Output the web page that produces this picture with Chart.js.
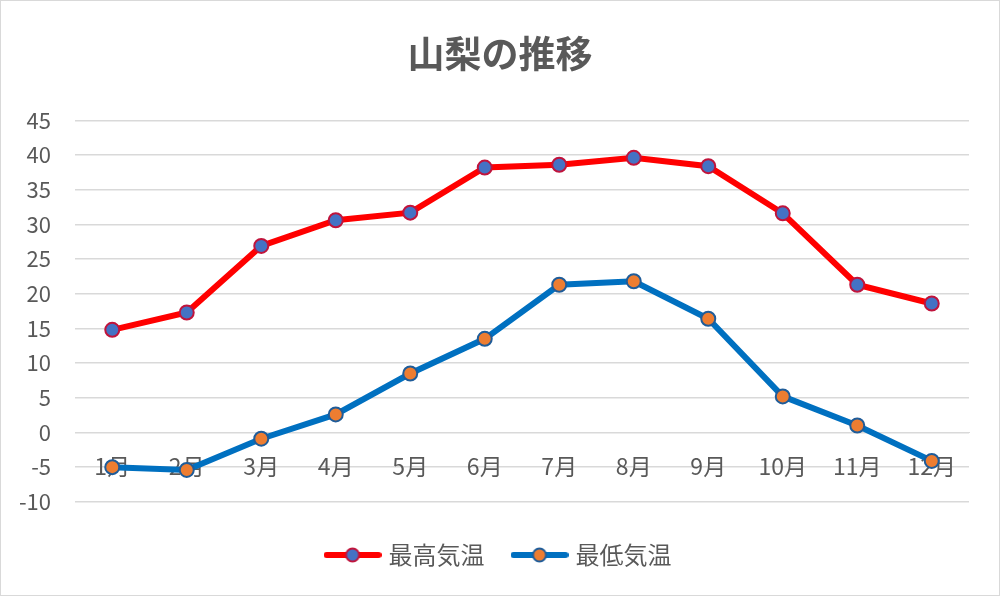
<!DOCTYPE html>
<html>
<head>
<meta charset="utf-8">
<script src="https://cdn.jsdelivr.net/npm/chart.js@4/dist/chart.umd.min.js"></script>
<style>
  html, body { margin: 0; padding: 0; background: #fff; }
  #wrap { width: 1000px; height: 596px; box-sizing: border-box; border: 1px solid #d9d9d9; }
</style>
</head>
<body>
<div id="wrap"><canvas id="chart" width="998" height="594"></canvas></div>
<script>
// chart data
const months = ["1月", "2月", "3月", "4月", "5月", "6月", "7月", "8月", "9月", "10月", "11月", "12月"]
const highTemps = [14.8, 17.3, 26.9, 30.6, 31.7, 38.2, 38.6, 39.6, 38.4, 31.6, 21.3, 18.6]
const lowTemps = [-5.0, -5.4, -0.9, 2.6, 8.5, 13.5, 21.3, 21.8, 16.4, 5.2, 1.0, -4.1]
const seriesNames = ["最高気温", "最低気温"]

const FONT = "'Noto Sans CJK JP', 'Noto Sans', sans-serif"
const TEXT = "#595959"

// legend marker: line with a dot, like Excel
function legendIcon(lineColor, fill, stroke) {
  const c = document.createElement("canvas")
  c.width = 58
  c.height = 18
  const g = c.getContext("2d")
  g.strokeStyle = lineColor
  g.lineWidth = 6
  g.lineCap = "round"
  g.beginPath()
  g.moveTo(3, 9)
  g.lineTo(55, 9)
  g.stroke()
  g.beginPath()
  g.arc(29, 9, 6.5, 0, Math.PI * 2)
  g.fillStyle = fill
  g.fill()
  g.lineWidth = 2
  g.strokeStyle = stroke
  g.stroke()
  return c
}

const icons = [
  legendIcon("#ff0000", "#4472c4", "#c0143c"),
  legendIcon("#0070c0", "#ed7d31", "#1f5c99"),
]

const ctx = document.getElementById("chart").getContext("2d")

new Chart(ctx, {
  type: "line",
  data: {
    labels: months,
    datasets: [
      {
        label: seriesNames[0],
        data: highTemps,
        borderColor: "#ff0000",
        borderWidth: 6,
        pointBackgroundColor: "#4472c4",
        pointBorderColor: "#c0143c",
        pointBorderWidth: 2,
        pointRadius: 7,
        tension: 0,
      },
      {
        label: seriesNames[1],
        data: lowTemps,
        borderColor: "#0070c0",
        borderWidth: 6,
        pointBackgroundColor: "#ed7d31",
        pointBorderColor: "#1f5c99",
        pointBorderWidth: 2,
        pointRadius: 7,
        tension: 0,
      },
    ],
  },
  options: {
    responsive: false,
    animation: false,
    layout: { padding: { left: 0, right: 0, top: 0, bottom: 18 } },
    plugins: {
      title: {
        display: true,
        text: "山梨の推移",
        color: TEXT,
        font: { family: FONT, size: 37, weight: "bold" },
        padding: { top: 31, bottom: 44 },
      },
      legend: {
        position: "bottom",
        // empty title only used as spacer above the items
        title: { display: true, text: "", font: { size: 1 }, padding: { top: 9, bottom: 0 } },
        labels: {
          usePointStyle: true,
          pointStyleWidth: 48,
          color: TEXT,
          padding: 31,
          font: { family: FONT, size: 24 },
          generateLabels(chart) {
            const items = Chart.defaults.plugins.legend.labels.generateLabels(chart)
            items.forEach((item, i) => {
              item.pointStyle = icons[i]
            })
            return items
          },
        },
      },
      tooltip: { enabled: false },
    },
    scales: {
      x: {
        position: { y: 0 },
        offset: true,
        grid: { display: false, drawTicks: false },
        border: { display: true, color: "#d9d9d9", width: 1 },
        ticks: {
          color: TEXT,
          padding: 20,
          font: { family: FONT, size: 23 },
          maxRotation: 0,
        },
      },
      y: {
        min: -10,
        max: 45,
        afterFit(scale) { scale.width = 74 },
        grid: { color: "#d9d9d9", lineWidth: 1.5, drawTicks: false },
        border: { display: false },
        ticks: {
          stepSize: 5,
          color: TEXT,
          padding: 24,
          font: { family: FONT, size: 22 },
        },
      },
      // empty right axis, only keeps the margin on the right side
      yRight: {
        position: "right",
        afterFit(scale) { scale.width = 30 },
        grid: { display: false, drawTicks: false },
        border: { display: false },
        ticks: { display: false },
      },
    },
  },
})
</script>
</body>
</html>
